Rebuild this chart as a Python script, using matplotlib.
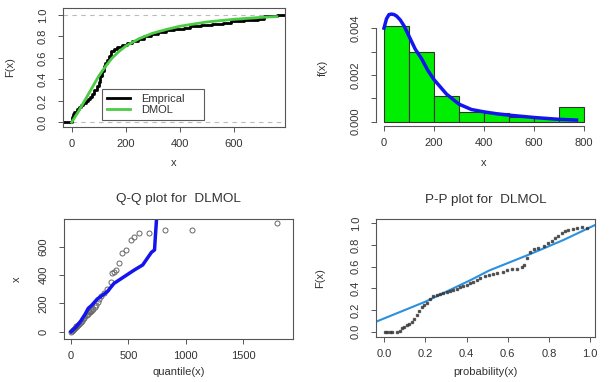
import matplotlib
matplotlib.use("Agg")
import matplotlib.pyplot as plt
import numpy as np

plt.rcParams["font.family"] = ["Liberation Sans", "DejaVu Sans"]

# --- top left: empirical vs fitted CDF ---
ecdf_x = [1, 4, 10, 18, 26, 33, 42, 52, 60, 68, 76, 84, 92, 100, 106, 112, 118,
          124, 130, 138, 146, 155, 168, 185, 205, 225, 245, 268, 292, 320, 350,
          380, 415, 440, 480, 520, 560, 590, 640, 690, 712, 760]
ecdf_F = [0.05, 0.08, 0.10, 0.12, 0.14, 0.16, 0.18, 0.20, 0.22, 0.24, 0.26, 0.30,
          0.34, 0.38, 0.43, 0.48, 0.52, 0.55, 0.58, 0.62, 0.66, 0.68, 0.70, 0.72,
          0.74, 0.76, 0.78, 0.80, 0.82, 0.84, 0.86, 0.87, 0.88, 0.90, 0.91, 0.92,
          0.93, 0.94, 0.95, 0.96, 0.99, 1.00]
fit_x = [0, 25, 50, 75, 100, 125, 150, 175, 200, 250, 300, 350, 400, 450, 500,
         600, 700, 760]
fit_F = [0, 0.10, 0.21, 0.32, 0.43, 0.52, 0.60, 0.66, 0.71, 0.78, 0.83, 0.865,
         0.895, 0.915, 0.935, 0.96, 0.978, 0.985]

# --- top right: histogram + fitted density ---
hist_edges = [0, 100, 200, 300, 400, 500, 600, 700, 800]
hist_density = [0.0041, 0.0030, 0.0011, 0.0004, 0.00036, 0.00021, 0.00014, 0.00061]
dens_x = [0, 10, 20, 30, 40, 50, 65, 80, 100, 125, 150, 175, 200, 250, 300, 350,
          400, 450, 500, 600, 700, 770]
dens_y = [0.0040, 0.0044, 0.00458, 0.0046, 0.00458, 0.00452, 0.00435, 0.0041,
          0.00366, 0.0031, 0.0027, 0.0022, 0.0018, 0.00118, 0.00075, 0.00052,
          0.00042, 0.00034, 0.00028, 0.00018, 0.0001, 0.00007]

# --- bottom left: Q-Q ---
qq_x = [3, 8, 14, 20, 27, 33, 40, 47, 55, 62, 70, 78, 86, 95, 105, 115, 125, 135,
        145, 155, 165, 175, 185, 195, 205, 218, 232, 248, 265, 285, 310, 344, 359,
        374, 388, 418, 447, 477, 521, 550, 594, 682, 815, 1050, 1792]
qq_y = [1, 5, 10, 14, 20, 26, 32, 38, 44, 50, 56, 62, 70, 78, 88, 100, 108, 118,
        128, 136, 142, 148, 155, 162, 172, 190, 210, 228, 250, 270, 300, 353, 412,
        423, 435, 482, 553, 577, 647, 671, 699, 699, 718, 718, 769]
qql_x = [0, 40, 80, 120, 150, 182, 227, 315, 374, 462, 550, 624, 700, 727, 735, 745]
qql_y = [0, 30, 70, 120, 165, 188, 230, 282, 341, 388, 435, 471, 560, 577, 680, 800]

# --- bottom right: P-P ---
pp_x = [0.005, 0.015, 0.027, 0.04, 0.06, 0.075, 0.085, 0.097, 0.109, 0.12, 0.133,
        0.145, 0.158, 0.17, 0.182, 0.195, 0.206, 0.222, 0.238, 0.255, 0.271, 0.287,
        0.303, 0.32, 0.336, 0.352, 0.368, 0.384, 0.4, 0.416, 0.432, 0.449, 0.465,
        0.49, 0.51, 0.53, 0.55, 0.575, 0.595, 0.62, 0.644, 0.668, 0.68, 0.692,
        0.709, 0.73, 0.749, 0.775, 0.797, 0.815, 0.83, 0.846, 0.862, 0.88, 0.895,
        0.915, 0.935, 0.96, 0.984]
pp_y = [0, 0, 0, 0, 0, 0.01, 0.03, 0.045, 0.062, 0.075, 0.092, 0.12, 0.154, 0.19,
        0.23, 0.25, 0.262, 0.3, 0.332, 0.34, 0.345, 0.355, 0.363, 0.375, 0.385,
        0.394, 0.41, 0.42, 0.431, 0.445, 0.46, 0.477, 0.495, 0.517, 0.523, 0.535,
        0.545, 0.554, 0.565, 0.575, 0.579, 0.6, 0.616, 0.677, 0.739, 0.76, 0.776,
        0.795, 0.816, 0.84, 0.862, 0.885, 0.908, 0.925, 0.939, 0.95, 0.96, 0.962,
        0.96]
ppl_x = [-0.04, 0.2, 0.42, 0.51, 0.71, 0.87, 1.03]
ppl_y = [0.092, 0.277, 0.477, 0.565, 0.717, 0.846, 0.99]

TXT = "#333333"
EDGE = "#555555"
FS = 8

fig = plt.figure(figsize=(6.13, 3.82), dpi=100)
W, H = 613.0, 382.0


def px_axes(left, right, top, bottom):
    return fig.add_axes([left / W, 1 - bottom / H, (right - left) / W, (bottom - top) / H])


def style(ax, box=True):
    for s in ax.spines.values():
        s.set_color(EDGE)
        s.set_linewidth(0.8)
    ax.tick_params(axis="both", direction="out", length=3.5, width=0.7,
                   colors=EDGE, labelcolor=TXT, labelsize=FS)
    ax.tick_params(axis="x", pad=5)
    ax.tick_params(axis="y", pad=7.5)
    for lab in ax.get_yticklabels():
        lab.set_rotation(90)
        lab.set_va("center")
    if not box:
        ax.spines["top"].set_visible(False)
        ax.spines["right"].set_visible(False)


def labels(ax, xl, yl, xy, yx):
    ax.text(0.5, xy, xl, transform=ax.transAxes, ha="center", va="center",
            fontsize=FS, color=TXT)
    ax.text(yx, 0.5, yl, transform=ax.transAxes, ha="center", va="center",
            rotation=90, fontsize=FS, color=TXT)


# top left
ax1 = px_axes(63.3, 285, 7.5, 127)
ax1.set_xlim(-31, 790)
ax1.set_ylim(-0.044, 1.07)
ax1.axhline(0, color="#bbbbbb", lw=0.8, ls=(0, (4, 4)))
ax1.axhline(1, color="#bbbbbb", lw=0.8, ls=(0, (4, 4)))
sx = [ax1.get_xlim()[0]] + ecdf_x + [ax1.get_xlim()[1]]
sy = [0] + ecdf_F + [ecdf_F[-1]]
ax1.step(sx, sy, where="post", color="black", lw=2, label="Emprical")
ax1.plot(fit_x, fit_F, color="#4ccc44", lw=2, label="DMOL")
ax1.set_xticks([0, 200, 400, 600])
ax1.set_yticks([0, 0.2, 0.4, 0.6, 0.8, 1.0])
ax1.set_yticklabels(["0.0", "0.2", "0.4", "0.6", "0.8", "1.0"])
style(ax1)
leg = ax1.legend(loc="lower left", bbox_to_anchor=(0.173, 0.059, 0.461, 0.257),
                 mode="expand", fontsize=FS, frameon=True, fancybox=False,
                 labelspacing=0.1, handlelength=2.1, handletextpad=1.0,
                 borderpad=0.45, borderaxespad=0)
leg.get_frame().set_edgecolor("#333333")
leg.get_frame().set_linewidth(0.8)
for t in leg.get_texts():
    t.set_color(TXT)
labels(ax1, "x", "F(x)", -0.30, -0.24)

# top right
ax2 = px_axes(376, 592, 9.8, 126)
widths = np.diff(hist_edges)
ax2.bar(hist_edges[:-1], hist_density, width=widths, align="edge",
        color="#00ee00", edgecolor="#333333", linewidth=0.8)
ax2.plot(dens_x, dens_y, color="#1414ee", lw=2.5)
ax2.set_xlim(-32, 832)
ax2.set_ylim(-0.000184, 0.004784)
ax2.set_xticks([0, 200, 400, 600, 800])
ax2.set_yticks([0, 0.001, 0.002, 0.003, 0.004])
ax2.set_yticklabels(["0.000", "", "0.002", "", "0.004"])
style(ax2, box=False)
ax2.spines["left"].set_bounds(0, 0.004)
ax2.spines["bottom"].set_bounds(0, 800)
labels(ax2, "x", "f(x)", -0.318, -0.245)

# bottom left
ax3 = px_axes(64, 293.3, 219.3, 339)
ax3.plot(qq_x, qq_y, ls="none", marker="o", ms=3.6, mfc="none", mec="#666666", mew=0.7)
ax3.plot(qql_x, qql_y, color="#1414ee", lw=2.5)
ax3.set_xlim(-61, 1935)
ax3.set_ylim(-51, 793)
ax3.set_xticks([0, 500, 1000, 1500])
ax3.set_yticks([0, 200, 400, 600])
style(ax3)
labels(ax3, "quantile(x)", "x", -0.273, -0.206)
fig.text((64 + 293.3) / 2 / W, 1 - 199.5 / H, "Q-Q plot for  DLMOL", ha="center",
         va="center", fontsize=9.7, color=TXT)

# bottom right
ax4 = px_axes(376, 595, 218.5, 337)
ax4.plot(ppl_x, ppl_y, color="#2a90e0", lw=1.5)
ax4.plot(pp_x, pp_y, ls="none", marker="s", ms=2.0, color="#333333", alpha=0.75)
ax4.set_xlim(-0.04, 1.024)
ax4.set_ylim(-0.049, 1.045)
ax4.set_xticks([0, 0.2, 0.4, 0.6, 0.8, 1.0])
ax4.set_xticklabels(["0.0", "0.2", "0.4", "0.6", "0.8", "1.0"])
ax4.set_yticks([0, 0.2, 0.4, 0.6, 0.8, 1.0])
ax4.set_yticklabels(["0.0", "0.2", "0.4", "0.6", "0.8", "1.0"])
style(ax4)
labels(ax4, "probability(x)", "F(x)", -0.293, -0.256)
fig.text((376 + 595) / 2 / W, 1 - 200 / H, "P-P plot for  DLMOL", ha="center",
         va="center", fontsize=9.7, color=TXT)

fig.savefig("out.png", dpi=100)
